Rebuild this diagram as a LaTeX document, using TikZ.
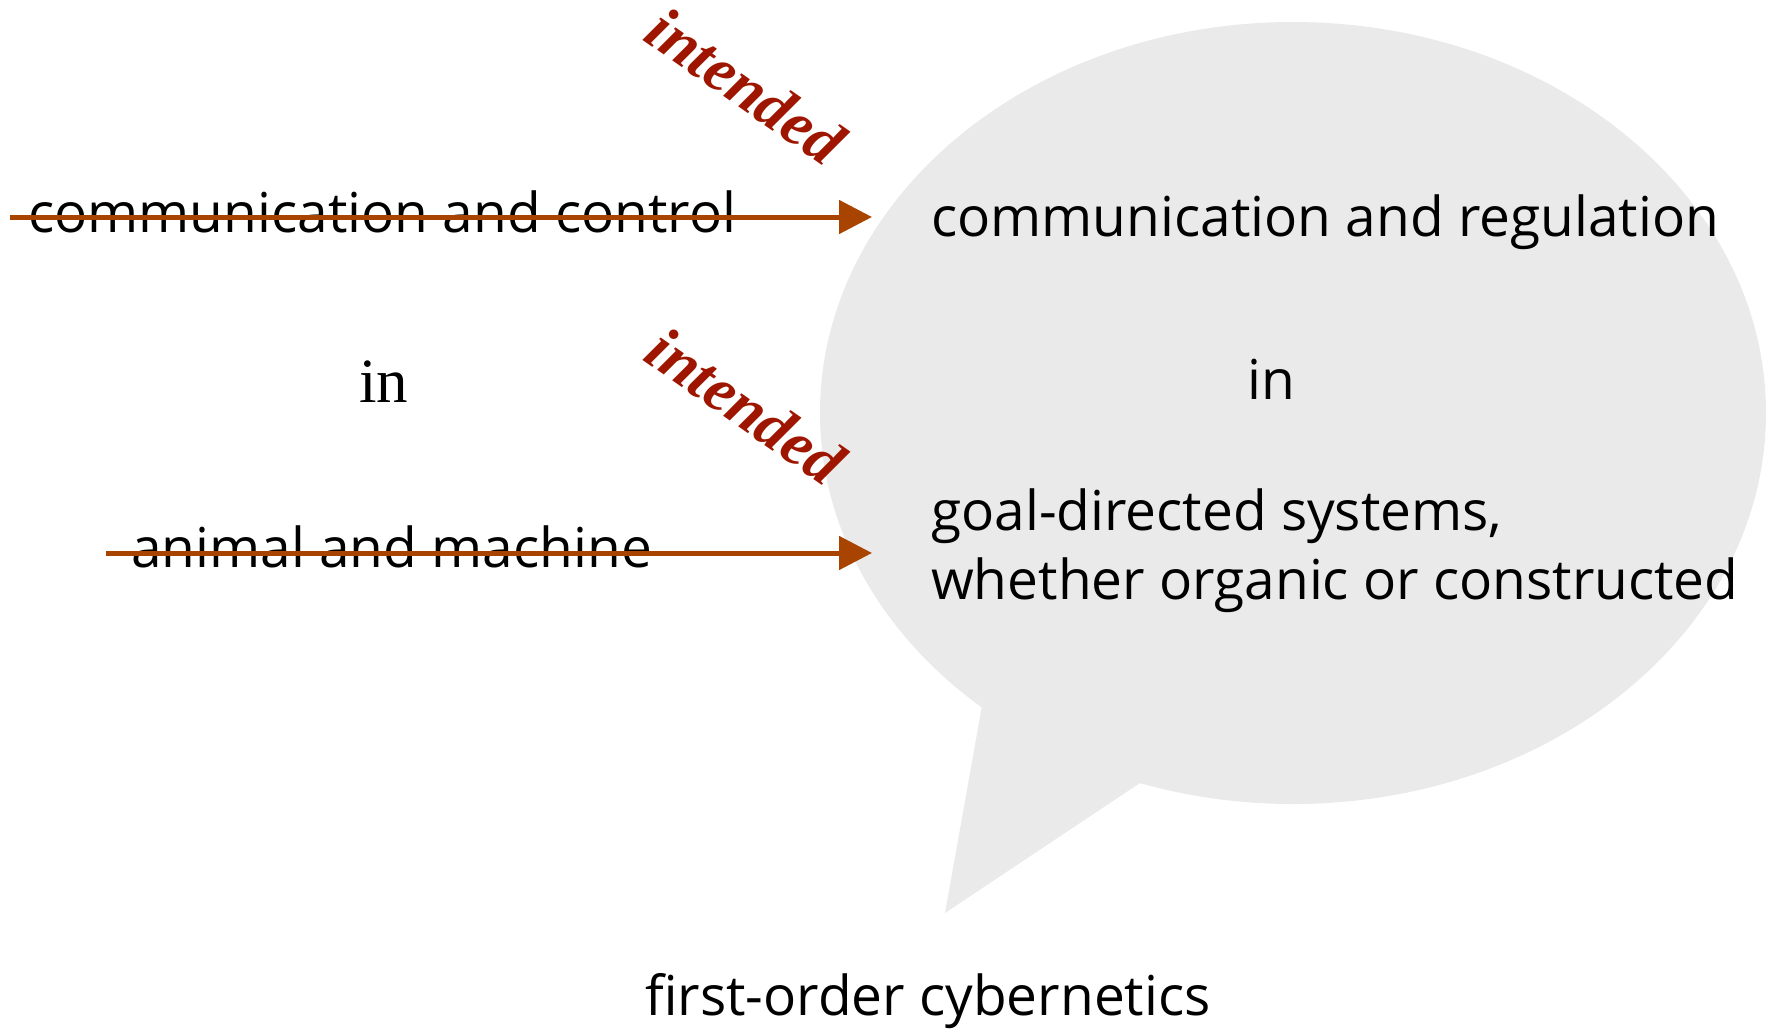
\documentclass[tikz,border=0pt]{standalone}
\usepackage{fontspec}
\setmainfont{Open Sans}
\newfontfamily\serifface{Liberation Serif}
\usetikzlibrary{arrows.meta}
\definecolor{bubble}{HTML}{EAEAEA}
\definecolor{strike}{HTML}{A94400}
\definecolor{note}{HTML}{9E1600}

\begin{document}
\begin{tikzpicture}[x=1pt,y=-1pt,
  label text/.style={inner sep=0pt, anchor=base west, font=\fontsize{55}{64}\selectfont},
  serif in/.style={inner sep=0pt, anchor=base west, font=\serifface\fontsize{63}{70}\selectfont},
  intended note/.style={inner sep=0pt, text=note, rotate=-35,
    font=\serifface\bfseries\itshape\fontsize{63}{68}\selectfont},
  strike arrow/.style={draw=strike, line width=5pt,
    -{Triangle[length=33pt,width=33pt]}}]
\useasboundingbox (0,0) rectangle (1781,1030);

% speech bubble
\fill[bubble] (1293,413) ellipse [x radius=473pt, y radius=391pt];
\fill[bubble] (983,700) -- (945,913) -- (1140,783) -- (1100,760) -- cycle;

% left column
\node[label text] (oldA) at (28,233) {communication and control};
\node[serif in] (oldIn) at (359,402) {in};
\node[label text] (oldB) at (131,567) {animal and machine};

% right column, inside the bubble
\node[label text] (newA) at (931,236) {communication and regulation};
\node[label text] (newIn) at (1247,399) {in};
\node[label text] (newB1) at (931,530) {goal-directed systems,};
\node[label text] (newB2) at (931,599) {whether organic or constructed};

\node[label text] (title) at (645,1015) {first-order cybernetics};

% strike-through arrows
\coordinate (s1) at (10,217);
\coordinate (t1) at (872,217);
\coordinate (s2) at (106,553);
\coordinate (t2) at (872,553);
\draw[strike arrow] (s1) -- (t1);
\draw[strike arrow] (s2) -- (t2);

% annotations
\node[intended note] (noteA) at (746,86) {intended};
\node[intended note] (noteB) at (746,406) {intended};
\end{tikzpicture}
\end{document}
